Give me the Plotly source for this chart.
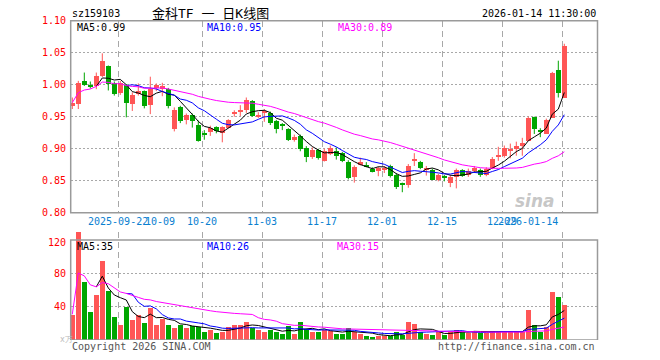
import plotly.graph_objects as go
import pandas as pd

# ---------------- data ----------------
sep_days = [10, 11, 12, 15, 16, 17, 18, 19, 22, 23, 24, 25, 26, 29, 30]
oct_days = [9, 10, 13, 14, 15, 16, 17, 20, 21, 22, 23, 24, 27, 28, 29, 30, 31]
nov_days = [3, 4, 5, 6, 7, 10, 11, 12, 13, 14, 17, 18, 19, 20, 21, 24, 25, 26, 27, 28]
dec_days = [1, 2, 3, 4, 5, 8, 9, 10, 11, 12, 15, 16, 17, 18, 19, 22, 23, 24, 25, 26, 29, 30, 31]
jan_days = [5, 6, 7, 8, 9, 12, 13, 14]
dates = ([f"2025-09-{d:02d}" for d in sep_days] + [f"2025-10-{d:02d}" for d in oct_days] +
         [f"2025-11-{d:02d}" for d in nov_days] + [f"2025-12-{d:02d}" for d in dec_days] +
         [f"2026-01-{d:02d}" for d in jan_days])

opens = [0.967, 0.970, 1.006, 0.999, 0.998, 1.014, 1.030, 1.003, 0.987, 1.000,
         0.971, 0.986, 0.990, 0.969, 0.996, 0.993, 0.993, 0.931, 0.9656, 0.945,
         0.953, 0.9375, 0.923, 0.926, 0.934, 0.9255, 0.933, 0.956, 0.958, 0.9605,
         0.975, 0.951, 0.956, 0.956, 0.944, 0.938, 0.931, 0.9135, 0.920, 0.902,
         0.8875, 0.898, 0.881, 0.892, 0.897, 0.893, 0.879, 0.857, 0.876, 0.874,
         0.868, 0.867, 0.868, 0.873, 0.860, 0.845, 0.843, 0.882, 0.880, 0.868,
         0.867, 0.852, 0.856, 0.847, 0.857, 0.867, 0.860, 0.866, 0.867, 0.860,
         0.870, 0.888, 0.889, 0.897, 0.900, 0.906, 0.9125, 0.950, 0.928, 0.923,
         0.949, 1.023, 0.980]
highs = [0.980, 1.006, 1.019, 1.005, 1.019, 1.049, 1.030, 1.005, 1.006, 1.001,
         0.988, 1.002, 0.991, 1.0125, 1.002, 1.003, 0.995, 0.9645, 0.967, 0.955,
         0.955, 0.944, 0.929, 0.936, 0.935, 0.935, 0.946, 0.960, 0.968, 0.980,
         0.976, 0.957, 0.962, 0.958, 0.945, 0.940, 0.932, 0.922, 0.922, 0.904,
         0.902, 0.900, 0.900, 0.905, 0.902, 0.895, 0.882, 0.874, 0.886, 0.879,
         0.871, 0.872, 0.873, 0.875, 0.862, 0.847, 0.876, 0.893, 0.881, 0.873,
         0.869, 0.861, 0.859, 0.859, 0.869, 0.868, 0.869, 0.873, 0.869, 0.871,
         0.887, 0.903, 0.905, 0.908, 0.911, 0.917, 0.950, 0.950, 0.932, 0.947,
         1.020, 1.0375, 1.064]
lows = [0.962, 0.962, 0.998, 0.994, 0.993, 1.012, 0.991, 0.983, 0.984, 0.949,
        0.959, 0.983, 0.963, 0.954, 0.990, 0.982, 0.963, 0.927, 0.940, 0.938,
        0.933, 0.911, 0.914, 0.920, 0.924, 0.910, 0.932, 0.950, 0.951, 0.956,
        0.950, 0.948, 0.942, 0.937, 0.924, 0.929, 0.912, 0.911, 0.896, 0.879,
        0.884, 0.883, 0.880, 0.890, 0.883, 0.879, 0.852, 0.847, 0.874, 0.871,
        0.863, 0.857, 0.862, 0.855, 0.837, 0.832, 0.839, 0.873, 0.868, 0.858,
        0.851, 0.849, 0.849, 0.840, 0.838, 0.856, 0.856, 0.863, 0.856, 0.857,
        0.868, 0.881, 0.886, 0.885, 0.889, 0.889, 0.9125, 0.923, 0.918, 0.923,
        0.949, 0.980, 0.980]
closes = [0.972, 1.003, 1.000, 0.998, 1.014, 1.0375, 1.001, 0.986, 1.003, 0.972,
          0.984, 0.990, 0.967, 0.993, 1.000, 0.998, 0.967, 0.961, 0.944, 0.953,
          0.943, 0.9125, 0.922, 0.933, 0.928, 0.934, 0.945, 0.957, 0.959, 0.976,
          0.952, 0.953, 0.960, 0.941, 0.932, 0.937, 0.9135, 0.919, 0.8995, 0.8875,
          0.898, 0.8855, 0.897, 0.902, 0.889, 0.881, 0.855, 0.872, 0.879, 0.873,
          0.865, 0.870, 0.871, 0.858, 0.841, 0.844, 0.873, 0.883, 0.870, 0.871,
          0.852, 0.859, 0.855, 0.856, 0.867, 0.858, 0.866, 0.871, 0.860, 0.868,
          0.884, 0.889, 0.901, 0.898, 0.905, 0.909, 0.949, 0.931, 0.927, 0.945,
          1.018, 0.988, 1.061]
volumes = [30.8, 130, 70, 34, 54, 95, 59, 28, 18, 40,
           25, 30, 21, 39, 19, 26, 19, 15, 18, 15,
           17, 16, 10, 13, 8.4, 10.4, 16, 18, 19, 22,
           15, 13, 10, 13, 9.6, 7.2, 17.6, 7.2, 21.6, 14,
           9.6, 9.6, 12, 10.8, 7.6, 7.6, 14.4, 10, 8, 4.8,
           4, 5.6, 5.6, 5.6, 10, 6, 21.6, 19.2, 9.6, 7.6,
           6, 9.6, 6.4, 10, 12, 10, 9, 11, 9, 9,
           11, 10, 10, 10, 10, 10, 37, 18, 10, 16,
           57.6, 51.6, 42]

label_dates = ["2025-09-22", "2025-10-09", "2025-10-20", "2025-11-03", "2025-11-17",
               "2025-12-01", "2025-12-15", "2025-12-29", "2026-01-14"]
label_texts = ["2025-09-22", "10-09", "10-20", "11-03", "11-17",
               "12-01", "12-15", "12-29", "2026-01-14"]
grid_dates = ["2025-09-22", "2025-10-20", "2025-11-03", "2025-11-17",
              "2025-12-01", "2025-12-15", "2025-12-29", "2026-01-14"]
price_ticks = [0.80, 0.85, 0.90, 0.95, 1.00, 1.05, 1.10]
price_tick_text = ["0.80", "0.85", "0.90", "0.95", "1.00", "1.05", "1.10"]
vol_ticks = [40, 80, 120]
vol_tick_text = ["40", "80", "120"]

code = "sz159103"
title = "金科TF 一 日K线图"
stamp = "2026-01-14 11:30:00"
price_ma_text = ["MA5:0.99", "MA10:0.95", "MA30:0.89"]
vol_ma_text = ["MA5:35", "MA10:26", "MA30:15"]

# ---------------- derived ----------------
n = len(dates)
idx = list(range(n))
cs = pd.Series(closes)
vs = pd.Series(volumes)
ma5 = cs.rolling(5).mean()
ma10 = cs.rolling(10).mean()
ma30 = cs.rolling(30, min_periods=1).mean()
vma5 = vs.rolling(5).mean()
vma10 = vs.rolling(10).mean()
vma30 = vs.rolling(30, min_periods=1).mean()

RED = "#FF5656"
GREEN = "#00A600"
up = [c >= o for o, c in zip(opens, closes)]
colors = [RED if u else GREEN for u in up]
body_base = [min(o, c) for o, c in zip(opens, closes)]
body_h = [max(abs(c - o), 0.0017) for o, c in zip(opens, closes)]

# ---------------- geometry ----------------
W, H = 660, 360
def px(x): return x / W
def py(y): return 1 - y / H

X0, X1 = 70.7, 597.5
P_TOP, P_BOT = 20.7, 212.7
V_TOP, V_BOT = 240.0, 340.0
step = 6.0
r0 = -(72.3 - X0) / step
r1 = r0 + (X1 - X0) / step
vol_max = 130
vol_top_px = V_BOT - vol_max * (V_BOT - V_TOP) / 120
goff = -1 / 3.0

fig = go.Figure()

# wicks
for col in (RED, GREEN):
    xs, ys = [], []
    for i in idx:
        if colors[i] == col:
            xs += [i, i, None]
            ys += [lows[i], highs[i], None]
    fig.add_trace(go.Scatter(x=xs, y=ys, mode="lines", line=dict(color=col, width=1),
                             xaxis="x", yaxis="y", hoverinfo="skip"))
# bodies
fig.add_trace(go.Bar(x=idx, y=body_h, base=body_base, width=0.83,
                     marker=dict(color=colors, line=dict(width=0)),
                     xaxis="x", yaxis="y"))
# price MAs
for s, col in ((ma5, "#000000"), (ma10, "#0000FF"), (ma30, "#FF00FF")):
    fig.add_trace(go.Scatter(x=idx, y=s, mode="lines", line=dict(color=col, width=1),
                             xaxis="x", yaxis="y"))
# volume
fig.add_trace(go.Bar(x=idx, y=volumes, width=0.83,
                     marker=dict(color=colors, line=dict(width=0)),
                     xaxis="x2", yaxis="y2"))
for s, col in ((vma5, "#000000"), (vma10, "#0000FF"), (vma30, "#FF00FF")):
    fig.add_trace(go.Scatter(x=idx, y=s, mode="lines", line=dict(color=col, width=1),
                             xaxis="x2", yaxis="y2"))

gridpos = [dates.index(d) + goff for d in grid_dates]
GRID = "#A8A8A8"
common_x = dict(range=[r0, r1], showticklabels=False, tickvals=gridpos, showgrid=True,
                gridcolor=GRID, gridwidth=1, griddash="6px,4px", zeroline=False,
                showline=False, ticks="")
fig.update_layout(
    width=W, height=H, margin=dict(l=0, r=0, t=0, b=0),
    paper_bgcolor="white", plot_bgcolor="white", showlegend=False, bargap=0,
    xaxis=dict(domain=[px(X0), px(X1)], anchor="y", **common_x),
    xaxis2=dict(domain=[px(X0), px(X1)], anchor="y2", matches="x", **common_x),
    yaxis=dict(domain=[py(P_BOT), py(P_TOP)], range=[price_ticks[0], price_ticks[-1]],
               tickvals=price_ticks[1:-1], showticklabels=False, showgrid=True,
               gridcolor=GRID, griddash="2px,2px", zeroline=False, ticks=""),
    yaxis2=dict(domain=[py(V_BOT), py(vol_top_px)], range=[0, vol_max],
                tickvals=vol_ticks[:-1], showticklabels=False, showgrid=True,
                gridcolor=GRID, griddash="2px,2px", zeroline=False, ticks=""),
)

FRAME = "#9A9A9A"
fig.add_shape(type="rect", xref="x domain", yref="y domain", x0=0, x1=1, y0=0, y1=1,
              line=dict(color=FRAME, width=1.5), layer="above")
fig.add_shape(type="rect", xref="x2 domain", yref="y2", x0=0, x1=1, y0=0, y1=vol_ticks[-1],
              line=dict(color=FRAME, width=1.5), layer="above")

MONO = "DejaVu Sans Mono"
def ann(text, x, y, color="#000", size=10, xanchor="left", family=MONO, **kw):
    fig.add_annotation(text=text, x=x, y=y, xref=kw.pop("xref", "paper"),
                       yref=kw.pop("yref", "paper"), xanchor=xanchor, yanchor="middle",
                       showarrow=False, font=dict(family=family, size=size, color=color),
                       **kw)

# header
ann(code, px(70), py(13.5), color="#000")
ann(title, px(150), py(13.5), size=13, family="DejaVu Sans Mono, Noto Sans CJK SC")
ann(stamp, px(598), py(13.5), xanchor="right")
ma_cols = ["#000000", "#0000FF", "#FF00FF"]
for t, xx, c in zip(price_ma_text, [75, 205, 336], ma_cols):
    ann(t, px(xx), py(27.5), color=c)
for t, xx, c in zip(vol_ma_text, [75, 205, 335], ma_cols):
    ann(t, px(xx), py(246.5), color=c)

# y labels
for v, t in zip(price_ticks, price_tick_text):
    ann(t, px(67.5), v, color="#FF0000", xanchor="right", yref="y")
for v, t in zip(vol_ticks, vol_tick_text):
    ann(t, px(67.5), v, color="#FF0000", xanchor="right", yref="y2",
        yshift=-3 if v == vol_ticks[-1] else 0)
ann("x万", px(58), py(339), color="#BBBBBB", size=8)

# x labels
for d, t in zip(label_dates, label_texts):
    pos = dates.index(d) + goff
    if d == label_dates[-1]:
        ann(t, pos, py(221.5), color="#0A80D0", xanchor="right", xref="x", xshift=-2)
    else:
        ann(t, pos, py(221.5), color="#0A80D0", xanchor="center", xref="x")

# footer
ann("Copyright 2026 SINA.COM", px(70), py(346.5), color="#555555")
ann("http://finance.sina.com.cn", px(597), py(346.5), color="#555555", xanchor="right")

# watermark
fig.add_annotation(text="sina", x=px(557), y=py(201), xref="paper", yref="paper",
                   showarrow=False, font=dict(family="DejaVu Sans", size=17,
                   color="rgba(150,150,150,0.55)", weight="bold", style="italic"))

fig.write_html("out.html", config={"displayModeBar": False},
               post_script="document.body.style.margin='0';document.body.style.overflow='hidden';")
